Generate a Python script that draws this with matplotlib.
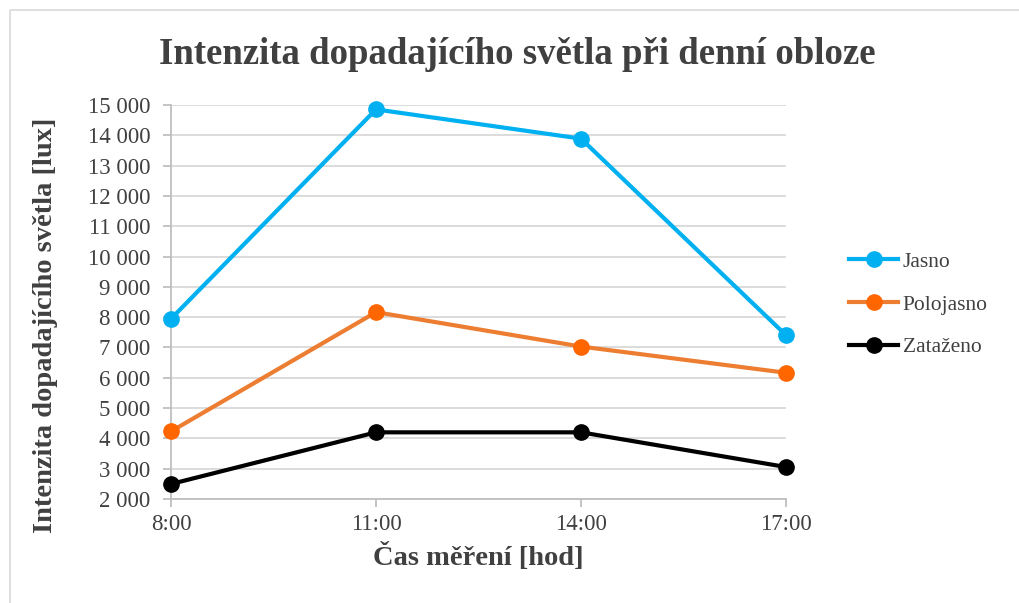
import matplotlib.pyplot as plt
from matplotlib.lines import Line2D
from matplotlib.ticker import FuncFormatter

# data
times = ['8:00', '11:00', '14:00', '17:00']
jasno = [7945, 14855, 13890, 7405]
polojasno = [4230, 8165, 7030, 6165]
zatazeno = [2495, 4200, 4200, 3055]

plt.rcParams['font.family'] = ['Liberation Serif', 'DejaVu Serif']

fig = plt.figure(figsize=(10.19, 6.03), dpi=100)
# plot area in pixels: x 171..786, y 105..499
ax = fig.add_axes([171 / 1019, 1 - 499 / 603, 615 / 1019, 394 / 603])

x = list(range(len(times)))
ax.plot(x, jasno, color='#00B0F0', lw=3, marker='o', ms=11,
        mfc='#00B0F0', mec='#00B0F0', label='Jasno', zorder=3, clip_on=False)
ax.plot(x, polojasno, color='#ED7D31', lw=3, marker='o', ms=11,
        mfc='#FF6600', mec='#FF6600', label='Polojasno', zorder=3, clip_on=False)
ax.plot(x, zatazeno, color='black', lw=3, marker='o', ms=11,
        mfc='black', mec='black', label='Zataženo', zorder=3, clip_on=False)

ax.set_xlim(0, 3)
ax.set_ylim(2000, 15000)
ax.set_yticks(range(2000, 15001, 1000))
ax.yaxis.set_major_formatter(FuncFormatter(lambda v, p: f'{int(v):,}'.replace(',', ' ')))
ax.set_xticks(x)
ax.set_xticklabels(times)

ax.grid(axis='y', color='#D9D9D9', lw=1.3)
ax.set_axisbelow(True)
for s in ['top', 'right']:
    ax.spines[s].set_visible(False)
ax.spines['left'].set_color('#BFBFBF')
ax.spines['bottom'].set_color('#BFBFBF')
ax.spines['left'].set_linewidth(1.3)
ax.spines['bottom'].set_linewidth(1.3)
ax.tick_params(axis='both', colors='#BFBFBF', labelcolor='#404040',
               labelsize=16.5, length=6, width=1.3)
ax.tick_params(axis='x', pad=5)
ax.tick_params(axis='y', pad=9)

fig.text(0.508, 0.91, 'Intenzita dopadajícího světla při denní obloze',
         ha='center', va='center', fontsize=26.5, fontweight='bold', color='#404040')
fig.text(0.469, 0.077, 'Čas měření [hod]', ha='center', va='center',
         fontsize=20.5, fontweight='bold', color='#404040')
fig.text(0.045, 0.46, 'Intenzita dopadajícího světla [lux]', ha='center', va='center',
         rotation=90, fontsize=20.5, fontweight='bold', color='#404040')

leg = fig.legend(loc='center left', bbox_to_anchor=(0.814, 0.495), frameon=False,
                 fontsize=15.5, handlelength=2.3, labelspacing=1.05, handletextpad=0.2)
for t in leg.get_texts():
    t.set_color('#404040')

# chart-area border, only top and left edges fall inside the picture
fig.add_artist(Line2D([9.5 / 1019, 9.5 / 1019, 1], [0, 1 - 9.5 / 603, 1 - 9.5 / 603],
                      transform=fig.transFigure, color='#D9D9D9', lw=1.2))

fig.savefig('out.png', dpi=100)
